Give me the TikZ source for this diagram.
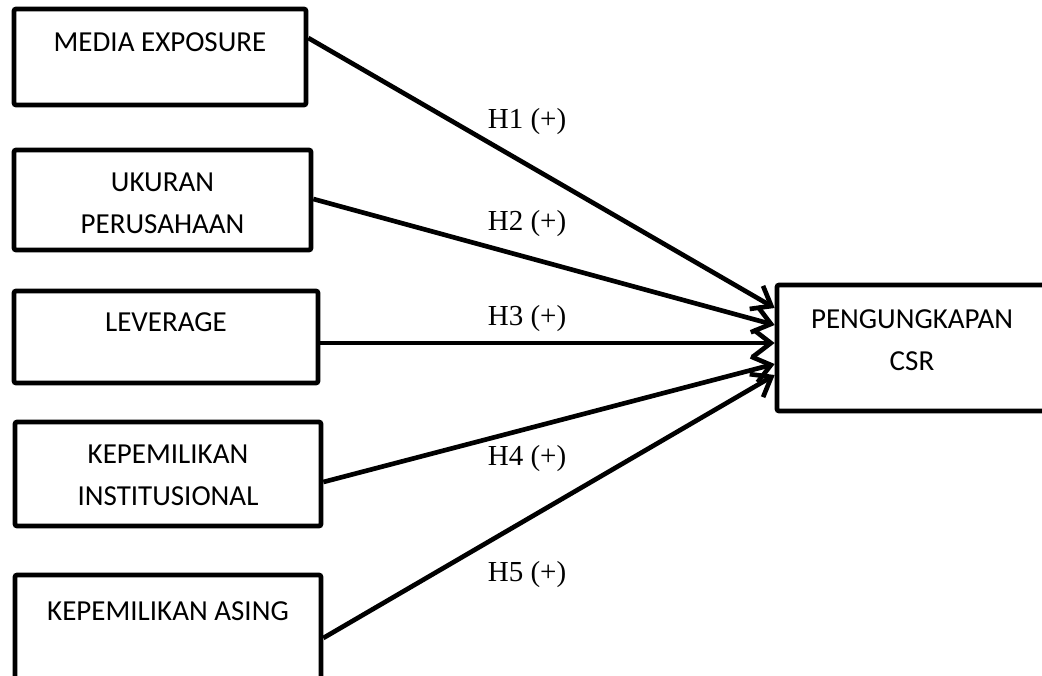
\documentclass[tikz,border=0pt]{standalone}
\usepackage{fontspec}
\setmainfont{Carlito}
\newfontfamily\timesfont{Liberation Serif}
\usetikzlibrary{arrows.meta}

\begin{document}
\begin{tikzpicture}[x=0.75pt,y=-0.75pt,
    var/.style={draw,line width=3.5pt,rounded corners=1.5pt,inner sep=0pt},
    txt/.style={font=\fontsize{21.75}{31.5}\selectfont,align=center,inner sep=0pt},
    hyp/.style={font=\timesfont\fontsize{21.75}{26}\selectfont,inner sep=0pt},
    link/.style={line width=3.5pt,-{Straight Barb[length=13pt,width=20pt]}}]
            \useasboundingbox (0,0) rectangle (1042,675);

            \node[var,minimum width=219pt,minimum height=72pt] (me) at (160,57) {};
            \node[var,minimum width=222.75pt,minimum height=75pt] (uk) at (162.5,200) {};
            \node[var,minimum width=228pt,minimum height=69pt] (lev) at (166,337) {};
            \node[var,minimum width=229.5pt,minimum height=78pt] (ki) at (168,474) {};
            \node[var,minimum width=229.5pt,minimum height=84.75pt] (ka) at (168,631.5) {};
            \node[var,minimum width=212.25pt,minimum height=94.5pt] (csr) at (918.5,348) {};

            \node[txt] (me-t) at (160,42) {MEDIA EXPOSURE};
            \node[txt] (uk-t) at (162.5,203.5) {UKURAN\\PERUSAHAAN};
            \node[txt] (lev-t) at (166,322) {LEVERAGE};
            \node[txt] (ki-t) at (168,475.5) {KEPEMILIKAN\\INSTITUSIONAL};
            \node[txt] (ka-t) at (168,611) {KEPEMILIKAN ASING};
            \node[txt] (csr-t) at (912,340) {PENGUNGKAPAN\\CSR};

            \node[hyp] (h1) at (527,122) {H1 (+)};
            \node[hyp] (h2) at (527,224) {H2 (+)};
            \node[hyp] (h3) at (527,319) {H3 (+)};
            \node[hyp] (h4) at (527,459) {H4 (+)};
            \node[hyp] (h5) at (527,575) {H5 (+)};

            \draw[link] (me.east |- 0,38) -- (csr.west |- 0,308);
            \draw[link] (uk.east |- 0,199) -- (csr.west |- 0,325);
            \draw[link] (lev.east |- 0,343) -- (csr.west |- 0,343);
            \draw[link] (ki.east |- 0,482) -- (csr.west |- 0,364);
            \draw[link] (ka.east |- 0,638) -- (csr.west |- 0,375);
          \end{tikzpicture}
\end{document}
